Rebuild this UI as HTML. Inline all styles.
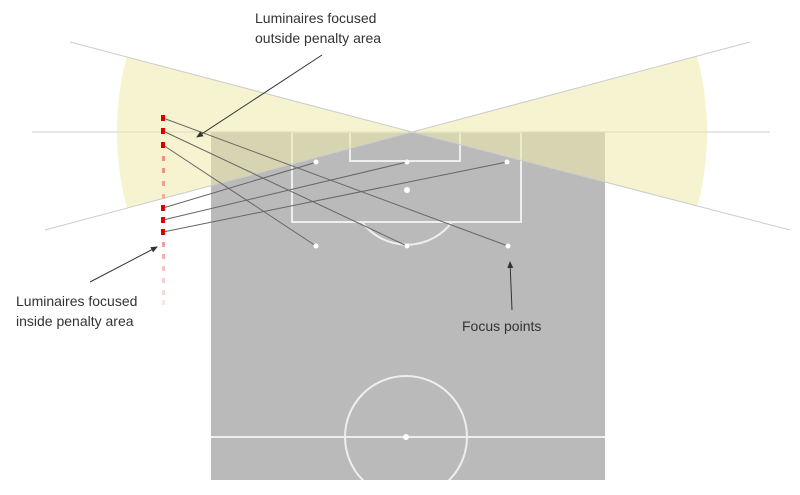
<!DOCTYPE html>
<html><head><meta charset="utf-8"><style>
html,body{margin:0;padding:0;background:#fff;width:800px;height:495px;overflow:hidden}
text{font-family:"Liberation Sans",sans-serif;font-size:14px;fill:#333}
</style></head><body>
<svg width="800" height="495" viewBox="0 0 800 495" xmlns="http://www.w3.org/2000/svg">
<defs><marker id="a" markerWidth="8" markerHeight="8" refX="6" refY="3" orient="auto" markerUnits="userSpaceOnUse"><path d="M0,0 L7,3 L0,6 z" fill="#333"/></marker>
<clipPath id="p"><rect x="211" y="132" width="394" height="348"/></clipPath></defs>
<rect x="211" y="132" width="394" height="348" fill="#bababa"/>
<g fill="none" stroke="#eee" stroke-width="2" clip-path="url(#p)">
<rect x="292" y="132" width="229" height="90"/>
<rect x="350" y="132" width="110" height="29"/>
<path d="M362,222 A56,56 0 0 0 452,222"/>
<line x1="211" y1="437" x2="605" y2="437"/>
<circle cx="406" cy="437" r="61"/>
</g>
<circle cx="407" cy="190" r="3" fill="#fff"/>
<circle cx="406" cy="437" r="3" fill="#fff"/>
<line x1="32" y1="132" x2="770" y2="132" stroke="#ccc" stroke-width="1"/>
<path d="M412,132 L126.7,56.9 A295,295 0 0 0 127,208.1 Z" fill="rgba(238,233,170,0.55)"/>
<path d="M412,132 L697,56.1 A295,295 0 0 1 697.6,206 Z" fill="rgba(238,233,170,0.55)"/>
<g stroke="#ccc" stroke-width="1">
<line x1="412" y1="132" x2="70" y2="42"/><line x1="412" y1="132" x2="45" y2="230"/>
<line x1="412" y1="132" x2="750" y2="42"/><line x1="412" y1="132" x2="790" y2="230"/>
</g>
<g stroke="#666" stroke-width="1">
<line x1="163" y1="118" x2="508" y2="246"/>
<line x1="163" y1="131" x2="407" y2="246"/>
<line x1="163" y1="145" x2="316" y2="246"/>
<line x1="163" y1="208" x2="317" y2="162"/>
<line x1="163" y1="220" x2="407" y2="162"/>
<line x1="163" y1="232" x2="507" y2="162"/>
</g>
<g fill="#fff">
<circle cx="316" cy="162" r="2.5"/><circle cx="407" cy="162" r="2.5"/><circle cx="507" cy="162" r="2.5"/>
<circle cx="316" cy="246" r="2.5"/><circle cx="407" cy="246" r="2.5"/><circle cx="508" cy="246" r="2.5"/>
</g>
<g>
<rect x="161" y="115" width="4" height="6" fill="#d00"/>
<rect x="161" y="128" width="4" height="6" fill="#d00"/>
<rect x="161" y="142" width="4" height="6" fill="#d00"/>
<rect x="162" y="156" width="3" height="5" fill="#f09080"/>
<rect x="162" y="168" width="3" height="5" fill="#f09080"/>
<rect x="162" y="181" width="3" height="5" fill="#f0a090"/>
<rect x="162" y="194" width="3" height="5" fill="#f0b0a0"/>
<rect x="161" y="205" width="4" height="6" fill="#d00"/>
<rect x="161" y="217" width="4" height="6" fill="#d00"/>
<rect x="161" y="229" width="4" height="6" fill="#d00"/>
<rect x="162" y="242" width="3" height="5" fill="#f0a0a0"/>
<rect x="162" y="254" width="3" height="5" fill="#f3b0b0"/>
<rect x="162" y="266" width="3" height="5" fill="#f5c0c0"/>
<rect x="162" y="278" width="3" height="5" fill="#f7cccc"/>
<rect x="162" y="290" width="3" height="5" fill="#f9d8d8"/>
<rect x="162" y="300" width="3" height="5" fill="#fbe4e4"/>
</g>
<g stroke="#333" stroke-width="1" marker-end="url(#a)">
<line x1="322" y1="55" x2="197" y2="137"/>
<line x1="90" y1="282" x2="157" y2="247"/>
<line x1="512" y1="310" x2="510" y2="262"/>
</g>
<text x="255" y="23">Luminaires focused</text>
<text x="255" y="43">outside penalty area</text>
<text x="16" y="306">Luminaires focused</text>
<text x="16" y="326">inside penalty area</text>
<text x="462" y="331">Focus points</text>
</svg>
</body></html>
